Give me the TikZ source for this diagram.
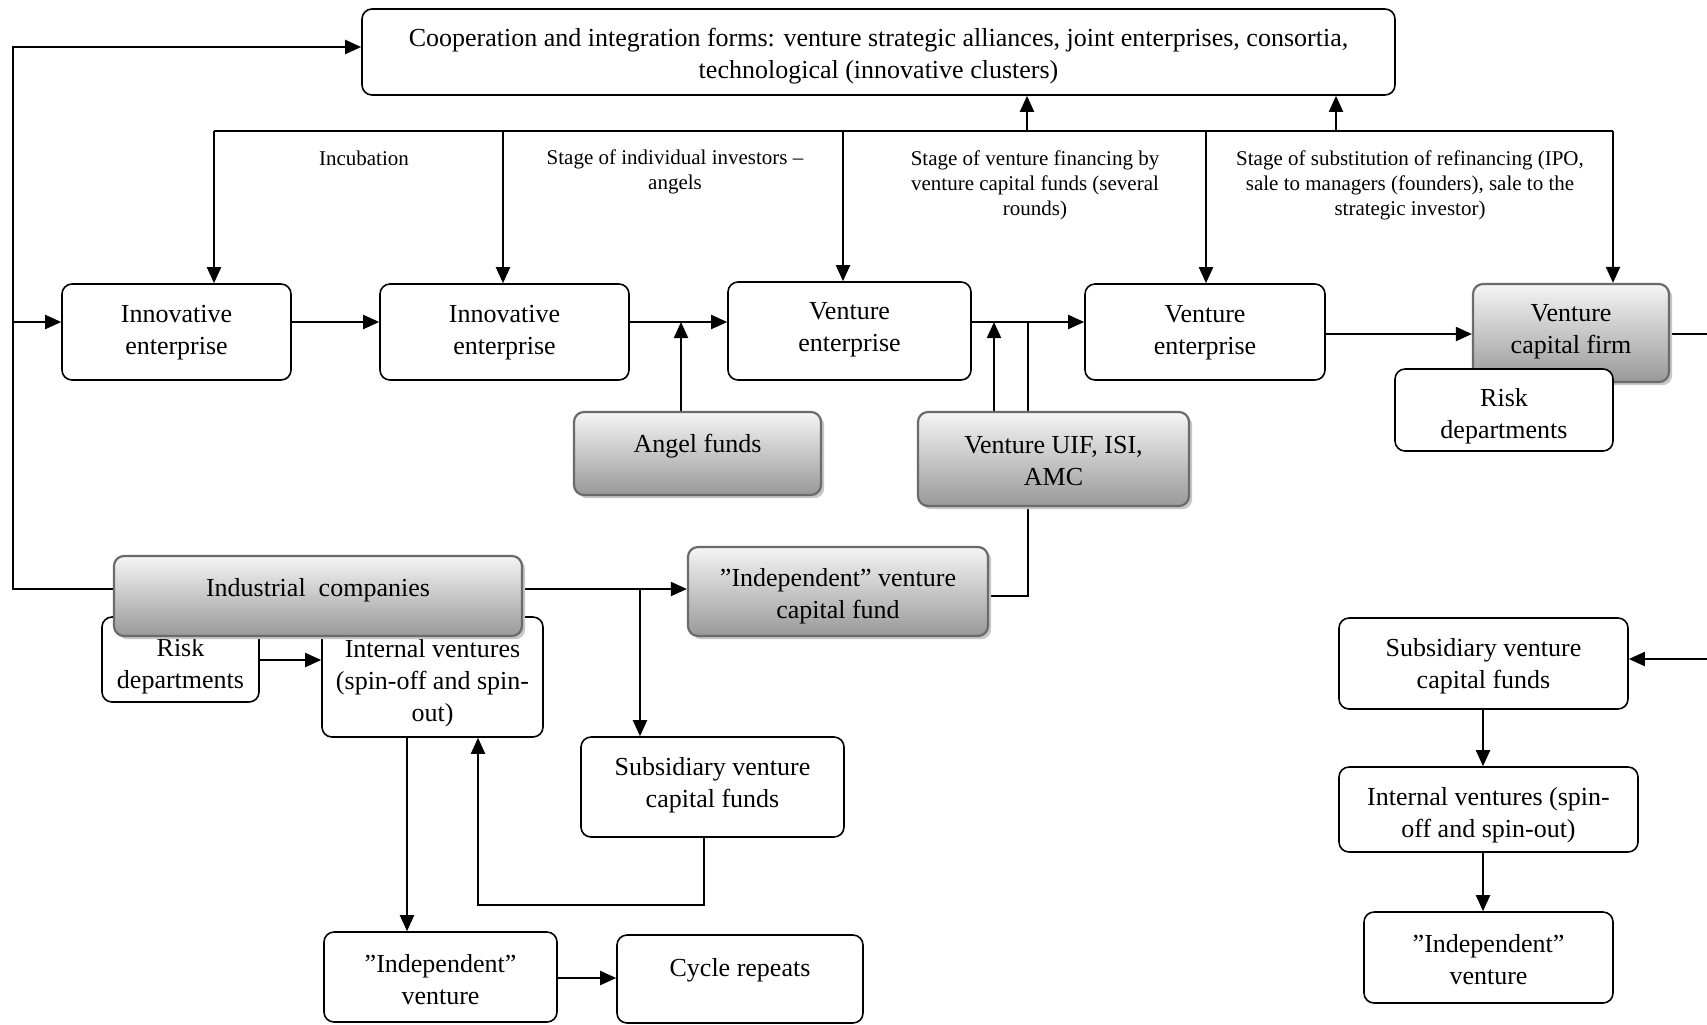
\documentclass[tikz,border=0pt]{standalone}
\usepackage{fontspec}
\setmainfont{Liberation Serif}
\usetikzlibrary{arrows.meta,shadows,backgrounds}

% box from (x1,y1) to (x2,y2), coordinates in pixels, y downwards;
% optional argument: vertical offset of the text from the box centre
\newcommand\placebox[8][0]{%
  \node[#2, minimum width={(#5-#3)*0.5pt}, minimum height={(#6-#4)*0.5pt}]
    (#7) at ({(#3+#5)/2},{(#4+#6)/2}) {};
  \node[boxtext] (#7-t) at ({(#3+#5)/2},{(#4+#6)/2+#1+2}) {#8};}

\begin{document}
\begin{tikzpicture}[x=0.5pt,y=-0.5pt,
  base/.style={rounded corners=5pt, inner sep=0pt},
  boxtext/.style={align=center, inner sep=0pt, font=\fontsize{13}{16}\selectfont},
  plain/.style={base, draw, line width=0.8pt, fill=white},
  shaded/.style={base, draw=black!58, line width=1.1pt,
    top color=gray!8, bottom color=gray!80,
    drop shadow={shadow xshift=1.6pt, shadow yshift=-1.6pt, fill=black!22, opacity=1}},
  stage/.style={align=center, inner sep=0pt, font=\fontsize{10.5}{12.5}\selectfont},
  link/.style={line width=1pt},
  thinlink/.style={line width=0.6pt},
  arr/.style={link, -{Triangle[length=8pt,width=7pt]}}]

\useasboundingbox (0,0) rectangle (1707,1024);

% ---- boxes ----
\placebox[2.5]{plain}{362}{9}{1395}{95}{coop}{Cooperation and integration forms: venture strategic alliances, joint enterprises, consortia,\\technological (innovative clusters)}

\placebox[-1.5]{plain}{62}{284}{291}{380}{ie1}{Innovative\\enterprise}
\placebox[-1.5]{plain}{380}{284}{629}{380}{ie2}{Innovative\\enterprise}
\placebox[-3]{plain}{728}{282}{971}{380}{ve1}{Venture\\enterprise}
\placebox[-1.5]{plain}{1085}{284}{1325}{380}{ve2}{Venture\\enterprise}
\placebox[-3]{shaded}{1473}{284}{1669}{382}{vcf}{Venture\\capital firm}
\placebox[4]{plain}{1395}{369}{1613}{451}{riskr}{Risk\\departments}

\placebox[-9.5]{shaded}{574}{412}{821}{495}{angel}{Angel funds}
\placebox{shaded}{918}{412}{1189}{506}{uif}{Venture UIF, ISI,\\AMC}
\placebox[2.5]{shaded}{688}{547}{988}{636}{ivcf}{”Independent” venture\\capital fund}

\placebox[5]{plain}{102}{617}{259}{702}{riskl}{Risk\\departments}
\placebox[4.5]{plain}{322}{617}{543}{737}{intv}{Internal ventures\\(spin-off and spin-\\out)}
\placebox[-8]{shaded}{114}{556}{522}{636}{indco}{Industrial\ \ companies}

\placebox[-4]{plain}{581}{737}{844}{837}{subm}{Subsidiary venture\\capital funds}
\placebox[1]{plain}{324}{932}{557}{1022}{indepv}{”Independent”\\venture}
\placebox[-11]{plain}{617}{935}{863}{1023}{cycle}{Cycle repeats}

\placebox[1]{plain}{1339}{618}{1628}{709}{subr}{Subsidiary venture\\capital funds}
\placebox[3.5]{plain}{1339}{767}{1638}{852}{intr}{Internal ventures (spin-\\off and spin-out)}
\placebox{plain}{1364}{912}{1613}{1003}{indepr}{”Independent”\\venture}

% ---- stage labels ----
\node[stage] (lincub) at (364,158) {Incubation};
\node[stage] (langel) at (675,172) {Stage of individual investors –\\angels};
\node[stage] (lvcf) at (1035,185) {Stage of venture financing by\\venture capital funds (several\\rounds)};
\node[stage] (lexit) at (1410,185) {Stage of substitution of refinancing (IPO,\\sale to managers (founders), sale to the\\strategic investor)};

% ---- helper coordinates ----
\coordinate (row) at (0,322);
\coordinate (tp) at (0,47);
\coordinate (lft) at (13,0);
\coordinate (ind) at (0,589);
\coordinate (b1) at (214,131);
\coordinate (b2) at (503,131);
\coordinate (b3) at (843,131);
\coordinate (b4) at (1206,131);
\coordinate (b5) at (1613,131);
\coordinate (u1) at (1027,131);
\coordinate (u2) at (1336,131);
\coordinate (ax) at (681,0);
\coordinate (ux1) at (994,0);
\coordinate (ux2) at (1028,0);
\coordinate (fy) at (0,596);
\coordinate (vy) at (0,334);
\coordinate (redge1) at (1707,334);
\coordinate (redge2) at (1707,659);
\coordinate (rx) at (1483,0);
\coordinate (sx) at (640,589);
\coordinate (ry) at (0,660);
\coordinate (dx) at (407,0);
\coordinate (mx) at (704,0);
\coordinate (lx) at (478,0);
\coordinate (ly) at (0,905);
\coordinate (cy) at (0,978);

% ---- connectors ----
\begin{scope}[on background layer]
  % feedback from industrial companies
  \draw[arr] (indco.west|-ind) -- (lft|-ind) -- (lft|-tp) -- (coop.west|-tp);
  \draw[arr] (lft|-row) -- (ie1.west|-row);

  % main chain
  \draw[arr] (ie1.east|-row) -- (ie2.west|-row);
  \draw[arr] (ie2.east|-row) -- (ve1.west|-row);
  \draw[arr] (ve1.east|-row) -- (ve2.west|-row);
  \draw[arr] (ve2.east|-vy) -- (vcf.west|-vy);
  \draw[thinlink] (vcf.east|-vy) -- (redge1);

  % stage bus
  \draw[link] (b1) -- (b5);
  \draw[arr] (b1) -- (b1|-ie1.north);
  \draw[arr] (b2) -- (b2|-ie2.north);
  \draw[arr] (b3) -- (b3|-ve1.north);
  \draw[arr] (b4) -- (b4|-ve2.north);
  \draw[arr] (b5) -- (b5|-vcf.north);
  \draw[arr] (u1) -- (u1|-coop.south);
  \draw[arr] (u2) -- (u2|-coop.south);

  % investors
  \draw[arr] (ax|-angel.north) -- (ax|-row);
  \draw[arr] (ux1|-uif.north) -- (ux1|-row);
  \draw[thinlink] (ivcf.east|-fy) -- (ux2|-fy) -- (ux2|-row);

  % industrial companies branch
  \draw[arr] (indco.east|-ind) -- (ivcf.west|-ind);
  \draw[arr] (sx) -- (sx|-subm.north);
  \draw[arr] (riskl.east|-ry) -- (intv.west|-ry);
  \draw[arr] (dx|-intv.south) -- (dx|-indepv.north);
  \draw[arr] (mx|-subm.south) -- (mx|-ly) -- (lx|-ly) -- (lx|-intv.south);
  \draw[arr] (indepv.east|-cy) -- (cycle.west|-cy);

  % right-hand chain
  \draw[arr] (redge2) -- (subr.east|-redge2);
  \draw[arr] (rx|-subr.south) -- (rx|-intr.north);
  \draw[arr] (rx|-intr.south) -- (rx|-indepr.north);
\end{scope}
\end{tikzpicture}
\end{document}
